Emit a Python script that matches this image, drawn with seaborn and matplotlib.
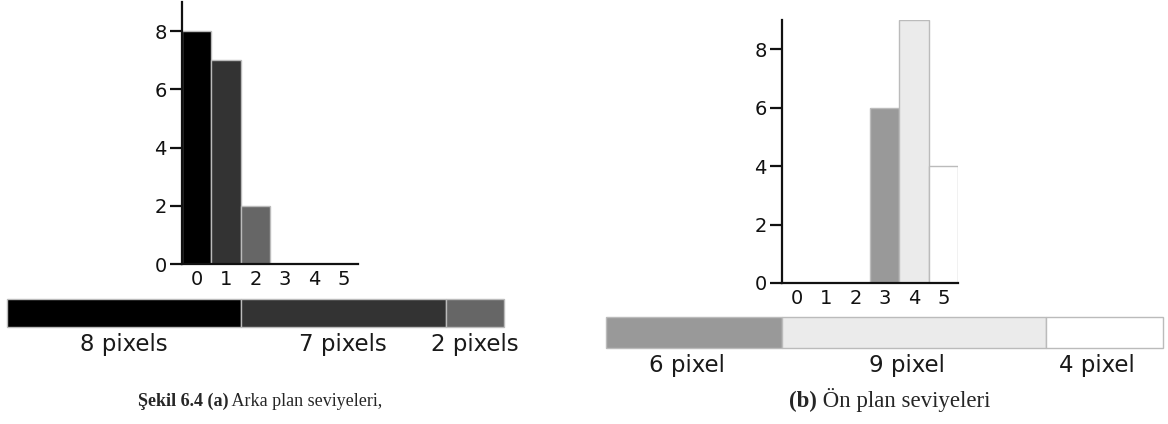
import matplotlib
matplotlib.use("Agg")
import numpy as np
import pandas as pd
import matplotlib.pyplot as plt
import seaborn as sns

# grey levels 0..5 and their histogram counts
levels = ["0", "1", "2", "3", "4", "5"]
level_colors = ["#000000", "#333333", "#666666", "#999999", "#ebebeb", "#ffffff"]
bg_counts = [8, 7, 2, 0, 0, 0]
fg_counts = [0, 0, 0, 6, 9, 4]

bg_labels = ["8 pixels", "7 pixels", "2 pixels"]
fg_labels = ["6 pixel", "9 pixel", "4 pixel"]
bg_caption = ("Şekil 6.4 (a)", " Arka plan seviyeleri,")
fg_caption = ("(b)", " Ön plan seviyeleri")

W, H = 1168, 424
sns.set_style("white")
plt.rcParams["font.family"] = ["DejaVu Sans"]
fig = plt.figure(figsize=(W / 100, H / 100), dpi=100)
palette = dict(zip(levels, level_colors))
edge = "#bbbbbb"


def px_axes(x0, y0, x1, y1):
    # axes from pixel box (top-left origin)
    return fig.add_axes([x0 / W, 1 - y1 / H, (x1 - x0) / W, (y1 - y0) / H])


def histogram(box, counts):
    ax = px_axes(*box)
    df = pd.DataFrame({"level": levels, "count": counts})
    sns.barplot(data=df, x="level", y="count", hue="level", palette=palette,
                order=levels, legend=False, width=1, edgecolor=edge,
                linewidth=1, ax=ax)
    ax.set_xlim(-0.5, 5.5)
    ax.set_ylim(0, 9)
    ax.set_yticks([0, 2, 4, 6, 8])
    ax.set_xlabel("")
    ax.set_ylabel("")
    for s in ["top", "right"]:
        ax.spines[s].set_visible(False)
    for s in ["left", "bottom"]:
        ax.spines[s].set_linewidth(1.6)
        ax.spines[s].set_color("#111111")
        ax.spines[s].set_zorder(5)
    ax.tick_params(axis="y", length=9, width=1.6, pad=2, labelsize=14,
                   color="#111111", labelcolor="#111111", left=True)
    ax.tick_params(axis="x", length=0, pad=4, labelsize=14,
                   labelcolor="#111111")
    ax.patch.set_alpha(0)
    return ax


def strip(box, counts, labels, base, shift=0.0):
    ax = px_axes(*box)
    vals = [c for c in counts if c > 0]
    cols = [level_colors[i] for i, c in enumerate(counts) if c > 0]
    lefts = np.concatenate([[0], np.cumsum(vals)[:-1]])
    ax.barh([0] * len(vals), vals, left=lefts, height=1, color=cols,
            edgecolor=edge, linewidth=1, clip_on=False)
    ax.set_xlim(0, sum(vals))
    ax.set_ylim(-0.5, 0.5)
    ax.axis("off")
    # labels under each segment, baseline given in pixels
    for l, v, t in zip(lefts, vals, labels):
        xf = (box[0] + (l + v / 2 + shift) / sum(vals) * (box[2] - box[0])) / W
        fig.text(xf, 1 - base / H, t, ha="center", va="baseline",
                 fontsize=16.5, color="#1a1a1a")
    return ax


histogram((182, 2, 358, 264), bg_counts)
histogram((782, 20, 958, 283), fg_counts)

strip((7, 299, 504, 327), bg_counts, bg_labels, 351)
strip((606, 317, 1163, 348), fg_counts, fg_labels, 372, shift=-0.25)


def caption(cx, base, parts, size):
    fig.canvas.draw()
    r = fig.canvas.get_renderer()
    t1 = fig.text(0, 1 - base / H, parts[0], fontweight="bold",
                  family="Liberation Serif", fontsize=size, va="baseline")
    t2 = fig.text(0, 1 - base / H, parts[1], family="Liberation Serif",
                  fontsize=size, va="baseline")
    w1 = t1.get_window_extent(r).width
    w2 = t2.get_window_extent(r).width
    x0 = cx - (w1 + w2) / 2
    t1.set_x(x0 / W)
    t2.set_x((x0 + w1) / W)


caption(260, 406, bg_caption, 13)
caption(890, 407, fg_caption, 16.5)

fig.savefig("out.png", dpi=100, facecolor="white")
